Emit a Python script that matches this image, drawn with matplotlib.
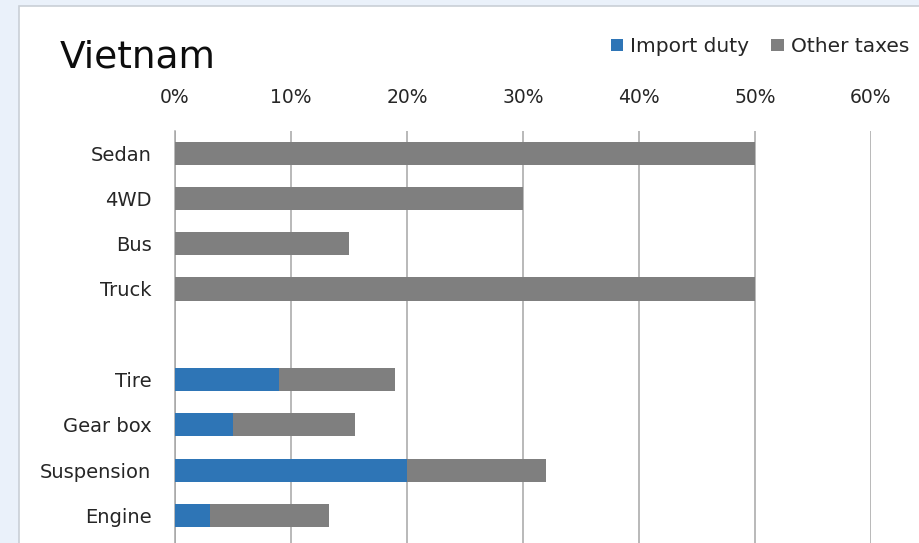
import matplotlib.pyplot as plt
from matplotlib.patches import Rectangle
from matplotlib.ticker import PercentFormatter

categories = ["Sedan", "4WD", "Bus", "Truck", "", "Tire", "Gear box", "Suspension", "Engine"]
import_duty = [0, 0, 0, 0, 0, 0.09, 0.05, 0.20, 0.03]
other_taxes = [0.50, 0.30, 0.15, 0.50, 0, 0.10, 0.105, 0.12, 0.103]
ticks = [0, 0.1, 0.2, 0.3, 0.4, 0.5, 0.6]

blue = "#2E75B6"
grey = "#7F7F7F"
W, H = 920, 543

plt.rcParams['font.family'] = ['DejaVu Sans']

fig = plt.figure(figsize=(W / 100, H / 100), dpi=100, facecolor="#EAF1FA")
# white chart panel, cropped by the picture edge
fig.patches.append(Rectangle((19 / W, -0.1), 1.1, 1 - 6.5 / H + 0.1, transform=fig.transFigure,
                             facecolor="white", edgecolor="#C9CFD6", linewidth=1.2, zorder=-10))

ax = fig.add_axes([175 / W, 0, (871 - 175) / W, (543 - 130.5) / H])
ax.set_facecolor("none")

y = range(len(categories))
ax.barh(y, import_duty, height=0.51, color=blue, label="Import duty", zorder=3)
ax.barh(y, other_taxes, left=import_duty, height=0.51, color=grey, label="Other taxes", zorder=3)

ax.set_xlim(0, 0.6)
ax.set_ylim(8.5 + 5 / 45.3, -0.5)
ax.set_xticks(ticks)
ax.xaxis.set_major_formatter(PercentFormatter(1.0, decimals=0))
ax.xaxis.tick_top()
ax.tick_params(axis="x", length=0, pad=17, labelsize=13.5, labelcolor="#262626")
ax.set_yticks(list(y))
ax.set_yticklabels(categories)
ax.tick_params(axis="y", length=0, pad=17, labelsize=14, labelcolor="#262626")

ax.grid(axis="x", color="#A6A6A6", linewidth=1.1, zorder=0)
for s in ["top", "right", "bottom"]:
    ax.spines[s].set_visible(False)
ax.spines["left"].set_color("#A6A6A6")
ax.spines["left"].set_linewidth(1.1)

fig.text(60 / W, 1 - 68 / H, "Vietnam", fontsize=27, color="#0D0D0D", va="baseline", ha="left")

fig.legend(loc="center right", bbox_to_anchor=(909 / W, 1 - 46.7 / H), frameon=False,
           ncol=2, fontsize=14.5, handlelength=0.6, handleheight=0.6, handletextpad=0.35,
           columnspacing=1.1, borderpad=0, borderaxespad=0, labelcolor="#262626")

fig.savefig("out.png", dpi=100, facecolor=fig.get_facecolor())
